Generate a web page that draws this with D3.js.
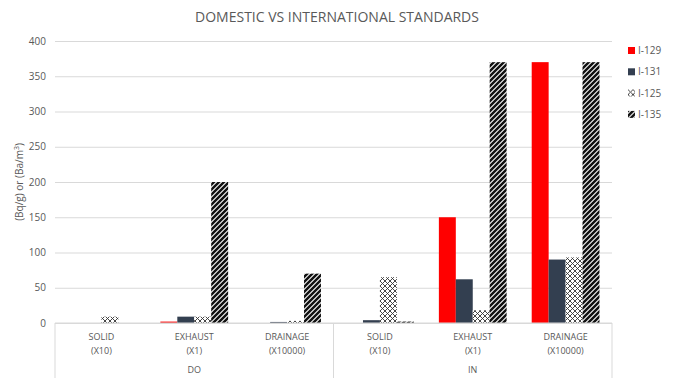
<!DOCTYPE html>
<html>
<head>
<meta charset="utf-8">
<script src="https://cdn.jsdelivr.net/npm/d3@7"></script>
<style>
  body { margin: 0; background: #fff; }
  text { font-family: "Liberation Sans Narrow", "Open Sans", sans-serif; fill: #595959; }
</style>
</head>
<body>
<div id="chart"></div>
<script>
// data
const groups = ["DO", "IN"];
const categories = ["SOLID", "EXHAUST", "DRAINAGE"];
const multipliers = ["(X10)", "(X1)", "(X10000)"];
const series = ["I-129", "I-131", "I-125", "I-135"];
const i129 = [0, 2, 0, 0, 150, 370];
const i131 = [0, 9, 1.5, 4, 62, 90];
const i125 = [9, 9, 3, 65, 18, 93];
const i135 = [0, 200, 70, 2, 370, 370];
const yTicks = [0, 50, 100, 150, 200, 250, 300, 350, 400];

const W = 673, H = 378;
const margin = {top: 41, right: 61, bottom: 55, left: 55};
const width = W - margin.left - margin.right,
      height = H - margin.top - margin.bottom;

const svg = d3.select("#chart").append("svg")
  .attr("width", W).attr("height", H);

// patterns
const defs = svg.append("defs");
const lattice = defs.append("pattern")
  .attr("id", "lattice").attr("patternUnits", "userSpaceOnUse")
  .attr("width", 5).attr("height", 5);
lattice.append("rect").attr("width", 5).attr("height", 5).attr("fill", "#fff");
lattice.append("path").attr("d", "M0,0L5,5M5,0L0,5")
  .attr("stroke", "#333").attr("stroke-width", 0.9);

const stripes = defs.append("pattern")
  .attr("id", "stripes").attr("patternUnits", "userSpaceOnUse")
  .attr("width", 5).attr("height", 5);
stripes.append("rect").attr("width", 5).attr("height", 5).attr("fill", "#fff");
stripes.append("path").attr("d", "M-1,6L6,-1M-1,1L1,-1M4,6L6,4")
  .attr("stroke", "#111").attr("stroke-width", 2.5);

const fills = {"I-129": "#ff0000", "I-131": "#333f50", "I-125": "url(#lattice)", "I-135": "url(#stripes)"};

const keys = d3.range(6);
const values = {"I-129": i129, "I-131": i131, "I-125": i125, "I-135": i135};

const g = svg.append("g").attr("transform", `translate(${margin.left},${margin.top})`);

const x0 = d3.scaleBand().domain(keys).range([0, width]);
const x1 = d3.scaleBand().domain(series).range([0, x0.bandwidth()]).paddingOuter(0.74);
const y = d3.scaleLinear().domain([0, 400]).range([height, 0]);

// y axis + gridlines
const yAxis = g.append("g")
  .call(d3.axisLeft(y).tickValues(yTicks).tickSize(-width).tickPadding(9));
yAxis.select(".domain").remove();
yAxis.selectAll(".tick line").attr("stroke", "#d9d9d9");
yAxis.selectAll(".tick text").attr("font-size", 10).attr("fill", "#595959");

// bars
series.forEach(s => {
  g.append("g").selectAll("rect")
    .data(keys)
    .join("rect")
      .attr("x", d => x0(d) + x1(s))
      .attr("y", d => y(values[s][d]))
      .attr("width", x1.bandwidth())
      .attr("height", d => height - y(values[s][d]))
      .attr("fill", fills[s]);
});

// category axis
g.append("line").attr("x1", 0).attr("x2", width).attr("y1", height).attr("y2", height)
  .attr("stroke", "#d9d9d9");
[0, width / 2, width].forEach(v => {
  g.append("line").attr("x1", v).attr("x2", v).attr("y1", height).attr("y2", H - margin.top)
    .attr("stroke", "#d9d9d9");
});
keys.forEach(k => {
  const cx = x0(k) + x0.bandwidth() / 2;
  const t = g.append("text").attr("text-anchor", "middle").attr("font-size", 9);
  t.append("tspan").attr("x", cx).attr("y", height + 17).text(categories[k % 3]);
  t.append("tspan").attr("x", cx).attr("y", height + 31).text(multipliers[k % 3]);
});
groups.forEach((gr, i) => {
  g.append("text").attr("text-anchor", "middle").attr("font-size", 9)
    .attr("x", width / 4 + i * width / 2).attr("y", height + 50).text(gr);
});

// title
svg.append("text").attr("x", 337).attr("y", 22).attr("text-anchor", "middle")
  .attr("font-size", 14).text("DOMESTIC VS INTERNATIONAL STANDARDS");

// y label
svg.append("text").attr("transform", "translate(23,182) rotate(-90)")
  .attr("text-anchor", "middle").attr("font-size", 10)
  .html('(Bq/g) or (Ba/m<tspan baseline-shift="super" font-size="7">3</tspan>)');

// legend
const legend = svg.append("g").attr("transform", "translate(628,47)");
series.forEach((s, i) => {
  const row = legend.append("g").attr("transform", `translate(0,${i * 21.3})`);
  row.append("rect").attr("width", 7).attr("height", 7).attr("fill", fills[s]);
  row.append("text").attr("x", 10).attr("y", 7).attr("font-size", 10).text(s);
});
</script>
</body>
</html>
